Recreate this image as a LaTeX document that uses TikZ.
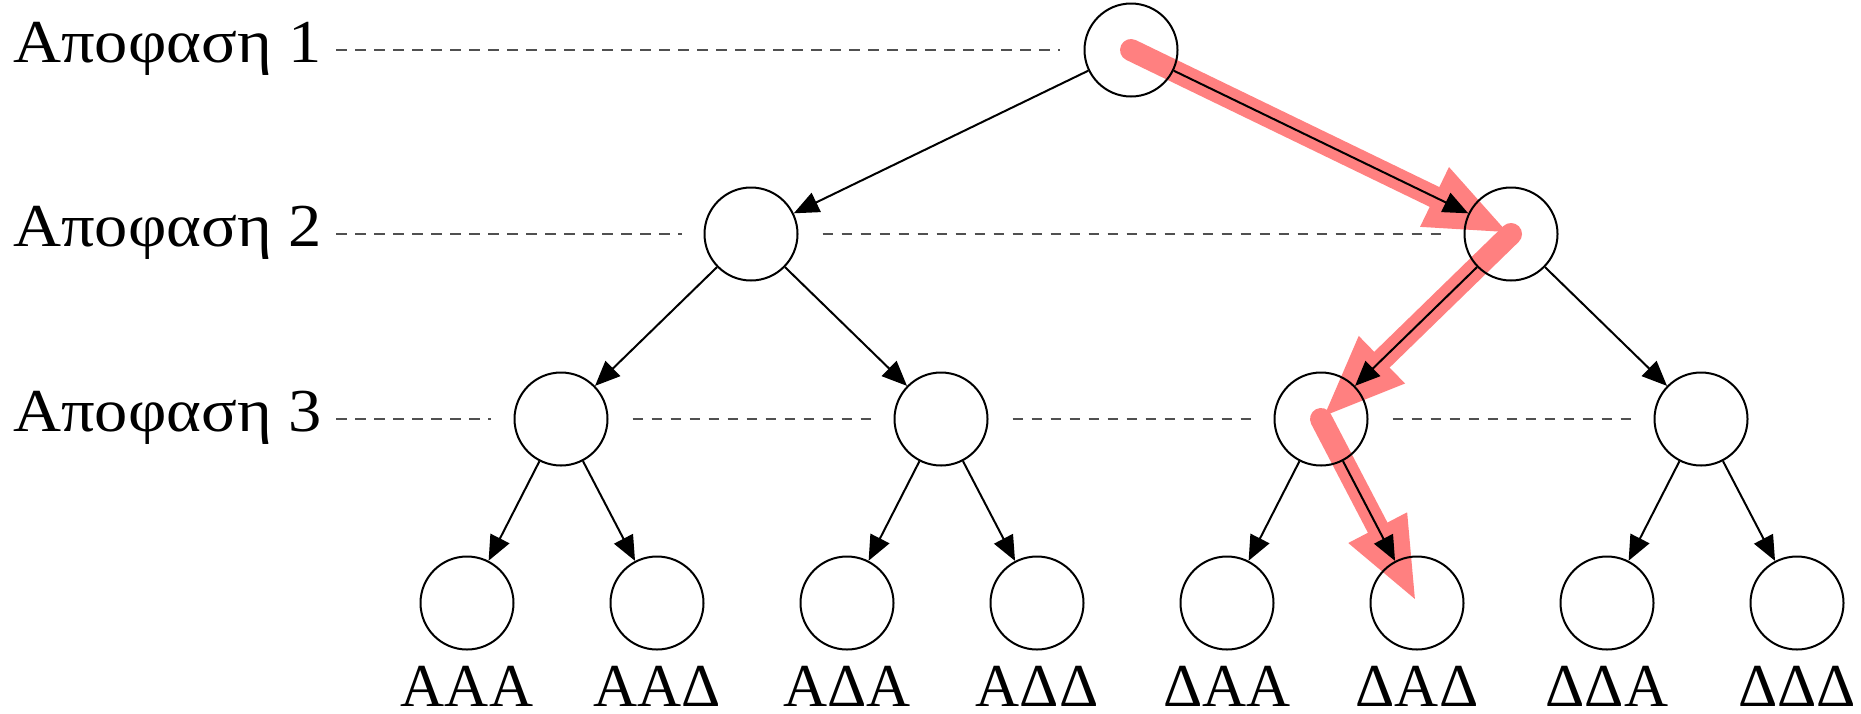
\documentclass[tikz,border=0pt]{standalone}
\usepackage{fontspec}
\setmainfont{Liberation Serif}
\newfontfamily\lblfont[FakeStretch=1.09]{Liberation Serif}
\usetikzlibrary{arrows.meta,backgrounds}
\definecolor{hl}{RGB}{255,128,128}
\definecolor{guide}{RGB}{80,80,80}
\begin{document}
\begin{tikzpicture}[x=0.5pt,y=-0.5pt,
  dnode/.style={circle,draw,line width=1pt,minimum size=46.5pt,inner sep=0pt},
  edge/.style={line width=1pt,-{Triangle[length=12.5pt,width=10.5pt]}},
  guideline/.style={guide,line width=0.65pt,dash pattern=on 5.3pt off 4.2pt},
  hlarrow/.style={hl,line width=11pt,line cap=round,-{Triangle[length=42.5pt,width=29.5pt]}},
  lvl/.style={font=\lblfont\fontsize{30.5}{36}\selectfont,anchor=base west,inner sep=0pt},
  leaf/.style={font=\fontsize{30.5}{36}\selectfont,anchor=base,inner sep=0pt}]
\useasboundingbox (0,0) rectangle (1861,713);

% decision nodes
\node[dnode] (n1) at (1131,50) {};
\node[dnode] (n2a) at (751,234) {};
\node[dnode] (n2b) at (1511,234) {};
\node[dnode] (n3a) at (561,419) {};
\node[dnode] (n3b) at (941,419) {};
\node[dnode] (n3c) at (1321,419) {};
\node[dnode] (n3d) at (1701,419) {};
\node[dnode] (n4a) at (467,603) {};
\node[dnode] (n4b) at (657,603) {};
\node[dnode] (n4c) at (847,603) {};
\node[dnode] (n4d) at (1037,603) {};
\node[dnode] (n4e) at (1227,603) {};
\node[dnode] (n4f) at (1417,603) {};
\node[dnode] (n4g) at (1607,603) {};
\node[dnode] (n4h) at (1797,603) {};

% level labels
\node[lvl] (l1) at (13,62) {Αποφαση 1};
\node[lvl] (l2) at (13,246) {Αποφαση 2};
\node[lvl] (l3) at (13,431) {Αποφαση 3};
\coordinate (g1) at (336,50);
\coordinate (g2) at (336,234);
\coordinate (g3) at (336,419);

% leaf labels
\node[leaf] (t1) at (467,706) {ΑΑΑ};
\node[leaf] (t2) at (657,706) {ΑΑΔ};
\node[leaf] (t3) at (847,706) {ΑΔΑ};
\node[leaf] (t4) at (1037,706) {ΑΔΔ};
\node[leaf] (t5) at (1227,706) {ΔΑΑ};
\node[leaf] (t6) at (1417,706) {ΔΑΔ};
\node[leaf] (t7) at (1607,706) {ΔΔΑ};
\node[leaf] (t8) at (1797,706) {ΔΔΔ};

% highlighted path
\begin{pgfonlayer}{background}
\fill[white] (0,0) rectangle (1861,713);
\draw[hlarrow] (n1.center) -- (n2b.center);
\draw[hlarrow] (n2b.center) -- (n3c.center);
\draw[hlarrow] (n3c.center) -- (n4f.center);
\end{pgfonlayer}

% guide lines
\draw[guideline] (g1) -- ([xshift=-12pt]n1.west);
\draw[guideline] (g2) -- ([xshift=-11pt]n2a.west);
\draw[guideline] ([xshift=12pt]n2a.east) -- ([xshift=-11pt]n2b.west);
\draw[guideline] (g3) -- ([xshift=-11.5pt]n3a.west);
\draw[guideline] ([xshift=12pt]n3a.east) -- ([xshift=-11.5pt]n3b.west);
\draw[guideline] ([xshift=12pt]n3b.east) -- ([xshift=-11.5pt]n3c.west);
\draw[guideline] ([xshift=12pt]n3c.east) -- ([xshift=-11.5pt]n3d.west);

% edges
\draw[edge] (n1) -- (n2a);
\draw[edge] (n1) -- (n2b);
\draw[edge] (n2a) -- (n3a);
\draw[edge] (n2a) -- (n3b);
\draw[edge] (n2b) -- (n3c);
\draw[edge] (n2b) -- (n3d);
\draw[edge] (n3a) -- (n4a);
\draw[edge] (n3a) -- (n4b);
\draw[edge] (n3b) -- (n4c);
\draw[edge] (n3b) -- (n4d);
\draw[edge] (n3c) -- (n4e);
\draw[edge] (n3c) -- (n4f);
\draw[edge] (n3d) -- (n4g);
\draw[edge] (n3d) -- (n4h);
\end{tikzpicture}
\end{document}
